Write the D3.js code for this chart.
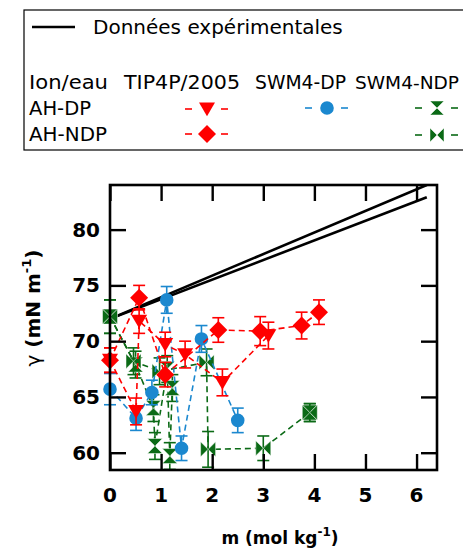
<!DOCTYPE html>
<html>
<head>
<meta charset="utf-8">
<script src="https://cdn.jsdelivr.net/npm/d3@7"></script>
<style>
  body { margin: 0; background: #fff; }
  svg { display: block; font-family: "DejaVu Sans", Verdana, sans-serif; }
  .tick-label { font-weight: bold; font-size: 20px; }
  .leg { font-size: 20px; }
</style>
</head>
<body>
<svg width="463" height="552"></svg>
<script>
// experimental lines
var expM = [0, 6.2];
var expA = [72.0, 84.0];
var expB = [72.0, 82.9];

// TIP4P/2005, AH-DP (down triangles)
var triM = [0, 0.51, 0.57, 1.08, 1.47, 2.20, 3.10];
var triV = [68.3, 63.7, 71.8, 69.7, 68.8, 66.3, 70.5];
var triE = [1.1, 1.2, 1.1, 1.1, 1.2, 1.2, 1.2];

// TIP4P/2005, AH-NDP (diamonds)
var diaM = [0, 0.57, 1.08, 2.12, 2.94, 3.75, 4.09];
var diaV = [68.3, 73.9, 67.0, 71.0, 70.9, 71.4, 72.6];
var diaE = [1.1, 1.1, 1.1, 1.1, 1.3, 1.2, 1.1];

// SWM4-DP, AH-DP (circles)
var cirM = [0, 0.51, 0.82, 1.11, 1.40, 1.79, 2.50];
var cirV = [65.7, 63.1, 65.4, 73.7, 60.4, 70.2, 62.9];
var cirE = [1.4, 1.1, 1.1, 1.2, 1.1, 1.2, 1.1];

// SWM4-NDP, AH-DP (hourglass); null = break in the dashed line
var hgM = [0, 0.50, 0.85, 0.88, 1.12, 1.17, 1.22, null, 3.91];
var hgV = [72.2, 67.9, 64.0, 60.6, 67.5, 59.7, 65.8, null, 63.6];
var hgE = [1.5, 1.2, 1.2, 1.2, 1.2, 1.2, 1.2, null, 0.8];

// SWM4-NDP, AH-NDP (bowtie)
var btM = [0, 0.46, 0.97, 1.89, 1.92, 3.00, 3.91];
var btV = [72.2, 68.2, 67.3, 68.1, 60.3, 60.4, 63.6];
var btE = [1.5, 1.2, 1.2, 1.2, 1.6, 1.1, 0.8];

var xTicks = [0, 1, 2, 3, 4, 5, 6];
var yTicks = [60, 65, 70, 75, 80];

var red = "#ff0000", blue = "#1b88cf", green = "#0b6a16";

var svg = d3.select("svg");
var pLeft = 110, pRight = 437, pTop = 185, pBottom = 470;

var x = d3.scaleLinear().domain([0, 6.4]).range([pLeft, pRight]);
var y = d3.scaleLinear().domain([58.45, 84.0]).range([pBottom, pTop]);

// marker shapes
function tri(s) { return "M" + (-s) + "," + (-s * 0.8) + "L" + s + "," + (-s * 0.8) + "L0," + (s * 0.9) + "Z"; }
function dia(s) { return "M0," + (-s) + "L" + s + ",0L0," + s + "L" + (-s) + ",0Z"; }
function hg(s) { return "M" + (-s) + "," + (-s) + "L" + s + "," + (-s) + "L0,0Z M" + (-s) + "," + s + "L" + s + "," + s + "L0,0Z"; }
function bt(s) { return "M" + (-s) + "," + (-s) + "L" + (-s) + "," + s + "L0,0Z M" + s + "," + (-s) + "L" + s + "," + s + "L0,0Z"; }
function circ(s) { return d3.symbol(d3.symbolCircle, Math.PI * s * s)(); }

svg.append("clipPath").attr("id", "clip")
  .append("rect").attr("x", pLeft).attr("y", pTop).attr("width", pRight - pLeft).attr("height", pBottom - pTop);

var plot = svg.append("g").attr("clip-path", "url(#clip)");

// experimental data
[expA, expB].forEach(function (vals) {
  plot.append("path")
    .datum(expM.map(function (m, i) { return [m, vals[i]]; }))
    .attr("fill", "none").attr("stroke", "#000").attr("stroke-width", 2.6)
    .attr("d", d3.line().x(function (d) { return x(d[0]); }).y(function (d) { return y(d[1]); }));
});

var series = [
  { m: hgM, v: hgV, e: hgE, color: green, shape: hg, size: 7.5, edge: "#fff" },
  { m: btM, v: btV, e: btE, color: green, shape: bt, size: 7.5, edge: "#fff" },
  { m: cirM, v: cirV, e: cirE, color: blue, shape: circ, size: 6.8, edge: "none" },
  { m: triM, v: triV, e: triE, color: red, shape: tri, size: 8, edge: "none" },
  { m: diaM, v: diaV, e: diaE, color: red, shape: dia, size: 9, edge: "none" }
];

var line = d3.line()
  .defined(function (d) { return d.v != null; })
  .x(function (d) { return x(d.m); }).y(function (d) { return y(d.v); });

series.forEach(function (s) {
  var all = s.m.map(function (m, i) { return { m: m, v: s.v[i], e: s.e[i] }; });
  var pts = all.filter(function (d) { return d.v != null; });
  var g = svg.append("g");
  g.append("path").datum(all)
    .attr("fill", "none").attr("stroke", s.color).attr("stroke-width", 1.6)
    .attr("stroke-dasharray", "6,4").attr("d", line);
  var eb = g.selectAll(".eb").data(pts).enter().append("g");
  eb.append("line")
    .attr("x1", function (d) { return x(d.m); }).attr("x2", function (d) { return x(d.m); })
    .attr("y1", function (d) { return y(d.v + d.e); }).attr("y2", function (d) { return y(d.v - d.e); })
    .attr("stroke", s.color).attr("stroke-width", 1.6);
  [1, -1].forEach(function (sg) {
    eb.append("line")
      .attr("x1", function (d) { return x(d.m) - 6; }).attr("x2", function (d) { return x(d.m) + 6; })
      .attr("y1", function (d) { return y(d.v + sg * d.e); }).attr("y2", function (d) { return y(d.v + sg * d.e); })
      .attr("stroke", s.color).attr("stroke-width", 1.6);
  });
  g.selectAll(".mk").data(pts).enter().append("path")
    .attr("transform", function (d) { return "translate(" + x(d.m) + "," + y(d.v) + ")"; })
    .attr("d", s.shape(s.size))
    .attr("fill", s.color).attr("stroke", s.edge).attr("stroke-width", 0.5);
});

// frame + inward ticks on all sides
svg.append("rect").attr("x", pLeft).attr("y", pTop).attr("width", pRight - pLeft).attr("height", pBottom - pTop)
  .attr("fill", "none").attr("stroke", "#000").attr("stroke-width", 2.6);

var tl = 16;
function tickStyle(g) { g.select(".domain").remove(); g.selectAll("line").attr("stroke-width", 2.4); }
svg.append("g").attr("transform", "translate(0," + pBottom + ")")
  .call(d3.axisBottom(x).tickValues(xTicks).tickSize(-tl).tickFormat("")).call(tickStyle);
svg.append("g").attr("transform", "translate(0," + pTop + ")")
  .call(d3.axisTop(x).tickValues(xTicks).tickSize(-tl).tickFormat("")).call(tickStyle);
svg.append("g").attr("transform", "translate(" + pLeft + ",0)")
  .call(d3.axisLeft(y).tickValues(yTicks).tickSize(-tl).tickFormat("")).call(tickStyle);
svg.append("g").attr("transform", "translate(" + pRight + ",0)")
  .call(d3.axisRight(y).tickValues(yTicks).tickSize(-tl).tickFormat("")).call(tickStyle);

// tick labels
svg.selectAll(".xl").data(xTicks).enter().append("text")
  .attr("class", "tick-label").attr("x", function (d) { return x(d); }).attr("y", 502)
  .attr("text-anchor", "middle").text(function (d) { return d; });
svg.selectAll(".yl").data(yTicks).enter().append("text")
  .attr("class", "tick-label").attr("x", 100).attr("y", function (d) { return y(d) + 7; })
  .attr("text-anchor", "end").text(function (d) { return d; });

// axis titles
var xt = svg.append("text").attr("x", 280).attr("y", 544).attr("text-anchor", "middle")
  .attr("font-weight", "bold").attr("font-size", 17);
xt.append("tspan").text("m (mol kg");
xt.append("tspan").attr("dy", -8).attr("font-size", 12).text("-1");
xt.append("tspan").attr("dy", 8).text(")");

var yt = svg.append("text").attr("transform", "translate(40,308) rotate(-90)").attr("text-anchor", "middle")
  .attr("font-weight", "bold").attr("font-size", 20);
yt.append("tspan").attr("font-weight", "normal").text("γ");
yt.append("tspan").text(" (mN m");
yt.append("tspan").attr("dy", -9).attr("font-size", 13).text("-1");
yt.append("tspan").attr("dy", 9).text(")");

// legend
var leg = svg.append("g");
leg.append("rect").attr("x", 24).attr("y", 10).attr("width", 460).attr("height", 140)
  .attr("fill", "none").attr("stroke", "#000").attr("stroke-width", 1.2);
leg.append("line").attr("x1", 32).attr("x2", 75).attr("y1", 27).attr("y2", 27)
  .attr("stroke", "#000").attr("stroke-width", 2.6);
leg.append("text").attr("class", "leg").attr("x", 93).attr("y", 34).text("Données expérimentales");

var legText = [
  { t: "Ion/eau", x: 29, y: 89, w: 79, fs: 20 },
  { t: "TIP4P/2005", x: 124, y: 89, w: 116, fs: 20 },
  { t: "SWM4-DP", x: 255, y: 89, w: 91, fs: 20 },
  { t: "SWM4-NDP", x: 355, y: 89, w: 104, fs: 18 },
  { t: "AH-DP", x: 29, y: 115, w: 62, fs: 20 },
  { t: "AH-NDP", x: 29, y: 141, w: 78, fs: 20 }
];
legText.forEach(function (d) {
  leg.append("text").attr("x", d.x).attr("y", d.y).attr("font-size", d.fs)
    .attr("textLength", d.w).attr("lengthAdjust", "spacingAndGlyphs").text(d.t);
});

var legItems = [
  { cx: 207, cy: 109, color: red, shape: tri, size: 8, edge: "none" },
  { cx: 207, cy: 134, color: red, shape: dia, size: 9, edge: "none" },
  { cx: 327, cy: 108, color: blue, shape: circ, size: 6.8, edge: "none" },
  { cx: 437, cy: 108, color: green, shape: hg, size: 7, edge: "#fff" },
  { cx: 437, cy: 135, color: green, shape: bt, size: 7, edge: "#fff" }
];
legItems.forEach(function (it) {
  [[-22, -15], [14, 21]].forEach(function (seg) {
    leg.append("line").attr("x1", it.cx + seg[0]).attr("x2", it.cx + seg[1])
      .attr("y1", it.cy).attr("y2", it.cy).attr("stroke", it.color).attr("stroke-width", 1.6);
  });
  leg.append("path").attr("transform", "translate(" + it.cx + "," + it.cy + ")")
    .attr("d", it.shape(it.size)).attr("fill", it.color)
    .attr("stroke", it.edge).attr("stroke-width", 0.5);
});
</script>
</body>
</html>
